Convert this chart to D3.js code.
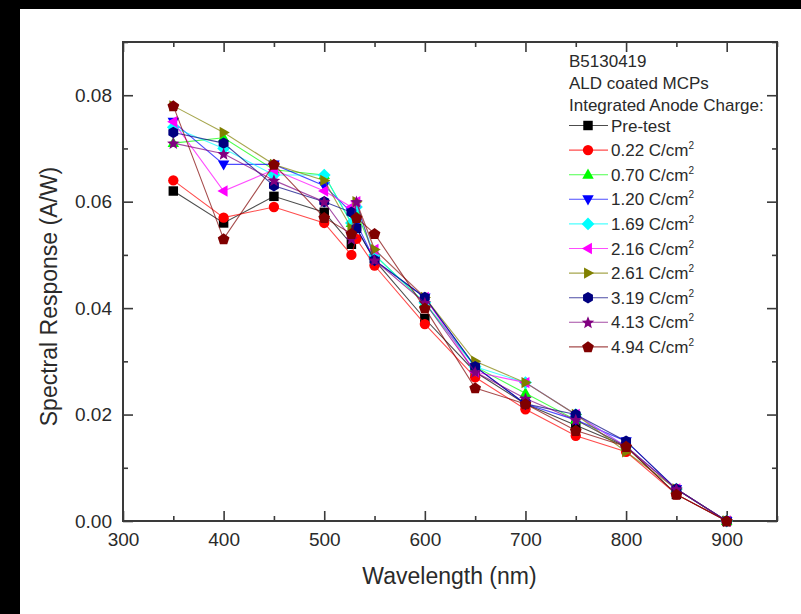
<!DOCTYPE html>
<html>
<head>
<meta charset="utf-8">
<script src="https://cdn.jsdelivr.net/npm/d3@7"></script>
<style>
  html, body { margin: 0; padding: 0; background: #fff; }
  svg { display: block; font-family: "Liberation Sans", Arial, sans-serif; }
</style>
</head>
<body>
<svg id="chart" width="801" height="614"></svg>
<script>
// Measurement wavelengths (nm)
const wavelengths = [350, 400, 450, 500, 527, 532, 550, 600, 650, 700, 750, 800, 850, 900];

// Spectral response (A/W) after each integrated anode charge step
const respPreTest = [0.062, 0.056, 0.061, 0.058, 0.052, 0.055, 0.049, 0.038, 0.028, 0.022, 0.018, 0.014, 0.005, 0.000];
const resp022 = [0.064, 0.057, 0.059, 0.056, 0.050, 0.053, 0.048, 0.037, 0.027, 0.021, 0.016, 0.013, 0.005, 0.000];
const resp070 = [0.071, 0.072, 0.066, 0.065, 0.056, 0.058, 0.050, 0.041, 0.029, 0.024, 0.019, 0.014, 0.006, 0.000];
const resp120 = [0.075, 0.067, 0.067, 0.063, 0.058, 0.056, 0.049, 0.042, 0.029, 0.022, 0.019, 0.015, 0.006, 0.000];
const resp169 = [0.074, 0.070, 0.065, 0.065, 0.056, 0.059, 0.050, 0.041, 0.029, 0.026, 0.020, 0.014, 0.006, 0.000];
const resp216 = [0.075, 0.062, 0.066, 0.062, 0.059, 0.060, 0.051, 0.042, 0.028, 0.026, 0.020, 0.014, 0.006, 0.000];
const resp261 = [0.078, 0.073, 0.067, 0.064, 0.055, 0.060, 0.051, 0.042, 0.030, 0.026, 0.020, 0.013, 0.006, 0.000];
const resp319 = [0.073, 0.071, 0.063, 0.060, 0.058, 0.055, 0.049, 0.042, 0.029, 0.022, 0.020, 0.015, 0.006, 0.000];
const resp413 = [0.071, 0.069, 0.064, 0.060, 0.053, 0.060, 0.049, 0.041, 0.028, 0.023, 0.019, 0.014, 0.006, 0.000];
const resp494 = [0.078, 0.053, 0.067, 0.057, 0.054, 0.057, 0.054, 0.040, 0.025, 0.022, 0.017, 0.014, 0.005, 0.000];

// Legend entries
const seriesNames = ["Pre-test", "0.22", "0.70", "1.20", "1.69", "2.16", "2.61", "3.19", "4.13", "4.94"];
const seriesValues = [respPreTest, resp022, resp070, resp120, resp169, resp216, resp261, resp319, resp413, resp494];

// Legend header lines
const legendTitle = ["B5130419", "ALD coated MCPs", "Integrated Anode Charge:"];

// Axis ticks
const xMajorTicks = [300, 400, 500, 600, 700, 800, 900];
const xMinorTicks = [350, 450, 550, 650, 750, 850, 950];
const yMajorTicks = [0.00, 0.02, 0.04, 0.06, 0.08];
const yMinorTicks = [0.01, 0.03, 0.05, 0.07, 0.09];

// Styles
const seriesColors = ["#000000", "#ff0000", "#00ff00", "#0000ff", "#00ffff", "#ff00ff", "#808000", "#000080", "#800080", "#800000"];
const seriesShapes = ["square", "circle", "up", "down", "diamond", "left", "right", "hexagon", "star", "pentagon"];

const svg = d3.select("#chart");
const W = 801, H = 614;
const plot = { left: 123, right: 777, top: 42, bottom: 521 };

svg.append("rect").attr("width", W).attr("height", H).attr("fill", "#fff");
// dark frame strips along the top and left edge
svg.append("rect").attr("x", 0).attr("y", 0).attr("width", W).attr("height", 9).attr("fill", "#000");
svg.append("rect").attr("x", 0).attr("y", 0).attr("width", 20).attr("height", H).attr("fill", "#000");

const x = d3.scaleLinear().domain([300, 950]).range([plot.left, plot.right]);
const y = d3.scaleLinear().domain([0, 0.09]).range([plot.bottom, plot.top]);

const axisColor = "#3a3a3a";
const textColor = "#2a2a2a";

function styleAxis(g, showLabels) {
  g.select(".domain").remove();
  g.selectAll(".tick line").attr("stroke", axisColor).attr("stroke-width", 1.6);
  if (!showLabels) g.selectAll(".tick text").remove();
  else g.selectAll(".tick text").attr("fill", textColor).attr("font-size", 19)
        .attr("font-family", "'Liberation Sans', Arial, sans-serif");
}

// bottom axis (inward ticks)
svg.append("g").attr("transform", `translate(0,${plot.bottom})`)
  .call(d3.axisBottom(x).tickValues(xMajorTicks).tickSize(-10).tickPadding(12).tickFormat(d3.format("d")))
  .call(g => styleAxis(g, true));
svg.append("g").attr("transform", `translate(0,${plot.bottom})`)
  .call(d3.axisBottom(x).tickValues(xMinorTicks).tickSize(-5).tickFormat(""))
  .call(g => styleAxis(g, false));
// top axis
svg.append("g").attr("transform", `translate(0,${plot.top})`)
  .call(d3.axisTop(x).tickValues(xMajorTicks).tickSize(-10).tickFormat(""))
  .call(g => styleAxis(g, false));
svg.append("g").attr("transform", `translate(0,${plot.top})`)
  .call(d3.axisTop(x).tickValues(xMinorTicks).tickSize(-5).tickFormat(""))
  .call(g => styleAxis(g, false));
// left axis
svg.append("g").attr("transform", `translate(${plot.left},0)`)
  .call(d3.axisLeft(y).tickValues(yMajorTicks).tickSize(-10).tickPadding(11).tickFormat(d3.format(".2f")))
  .call(g => styleAxis(g, true));
svg.append("g").attr("transform", `translate(${plot.left},0)`)
  .call(d3.axisLeft(y).tickValues(yMinorTicks).tickSize(-5).tickFormat(""))
  .call(g => styleAxis(g, false));
// right axis
svg.append("g").attr("transform", `translate(${plot.right},0)`)
  .call(d3.axisRight(y).tickValues(yMajorTicks).tickSize(-10).tickFormat(""))
  .call(g => styleAxis(g, false));
svg.append("g").attr("transform", `translate(${plot.right},0)`)
  .call(d3.axisRight(y).tickValues(yMinorTicks).tickSize(-5).tickFormat(""))
  .call(g => styleAxis(g, false));

// plot frame
svg.append("rect")
  .attr("x", plot.left).attr("y", plot.top)
  .attr("width", plot.right - plot.left).attr("height", plot.bottom - plot.top)
  .attr("fill", "none").attr("stroke", axisColor).attr("stroke-width", 2);

// axis titles
svg.append("text")
  .attr("x", (plot.left + plot.right) / 2 - 0.5).attr("y", 584)
  .attr("text-anchor", "middle").attr("font-size", 23).attr("fill", textColor)
  .text("Wavelength (nm)");
svg.append("text")
  .attr("transform", `translate(57,${(plot.top + plot.bottom) / 2 + 15}) rotate(-90)`)
  .attr("text-anchor", "middle").attr("font-size", 23).attr("fill", textColor)
  .text("Spectral Response (A/W)");

// marker path generator (k scales every shape)
function markerPath(shape) {
  const k = 1.1;
  const poly = pts => "M" + pts.map(p => (p[0] * k).toFixed(2) + "," + (p[1] * k).toFixed(2)).join("L") + "Z";
  const regular = (n, r, rot) => d3.range(n).map(i => {
    const a = rot + i * 2 * Math.PI / n;
    return [r * Math.sin(a), -r * Math.cos(a)];
  });
  switch (shape) {
    case "square": return poly([[-4.3, -4.3], [4.3, -4.3], [4.3, 4.3], [-4.3, 4.3]]);
    case "circle": return d3.symbol(d3.symbolCircle, Math.PI * (4.7 * k) ** 2)();
    case "up": return poly([[0, -5.6], [5.2, 3.6], [-5.2, 3.6]]);
    case "down": return poly([[0, 5.6], [5.2, -3.6], [-5.2, -3.6]]);
    case "diamond": return poly([[0, -5.8], [5.8, 0], [0, 5.8], [-5.8, 0]]);
    case "left": return poly([[-5.6, 0], [3.6, -5.2], [3.6, 5.2]]);
    case "right": return poly([[5.6, 0], [-3.6, -5.2], [-3.6, 5.2]]);
    case "hexagon": return poly(regular(6, 5.2, 0));
    case "star": {
      const pts = d3.range(10).map(i => {
        const r = i % 2 === 0 ? 6 : 2.6;
        const a = i * Math.PI / 5;
        return [r * Math.sin(a), -r * Math.cos(a) + 0.5];
      });
      return poly(pts);
    }
    case "pentagon": return poly(regular(5, 5.6, 0).map(p => [p[0], p[1] + 0.4]));
  }
}

const line = d3.line().x(d => x(d[0])).y(d => y(d[1]));

// series: line then markers, drawn in legend order
seriesValues.forEach((vals, i) => {
  const pts = wavelengths.map((w, j) => [w, vals[j]]);
  const g = svg.append("g");
  g.append("path").datum(pts)
    .attr("d", line)
    .attr("fill", "none")
    .attr("stroke", seriesColors[i])
    .attr("stroke-opacity", 0.7)
    .attr("stroke-width", 1.1);
  g.selectAll("path.mk").data(pts).join("path")
    .attr("class", "mk")
    .attr("transform", d => `translate(${x(d[0])},${y(d[1])})`)
    .attr("d", markerPath(seriesShapes[i]))
    .attr("fill", seriesColors[i]);
});

// legend
const legend = svg.append("g").attr("font-size", 17).attr("fill", textColor);
const lx = 569;
legendTitle.forEach((t, i) => {
  legend.append("text").attr("x", lx).attr("y", 67 + i * 22).text(t);
});
seriesNames.forEach((name, i) => {
  const cy = 125.5 + i * 24.6;
  legend.append("line")
    .attr("x1", lx).attr("x2", 608).attr("y1", cy).attr("y2", cy)
    .attr("stroke", seriesColors[i]).attr("stroke-opacity", 0.7).attr("stroke-width", 1.1);
  legend.append("path")
    .attr("transform", `translate(588,${cy})`)
    .attr("d", markerPath(seriesShapes[i]))
    .attr("fill", seriesColors[i]);
  const t = legend.append("text").attr("x", 611).attr("y", cy + 6);
  if (i === 0) {
    t.text(name);
  } else {
    t.append("tspan").text(name + " C/cm");
    t.append("tspan").attr("font-size", 10).attr("dy", -7).text("2");
  }
});
</script>
</body>
</html>
